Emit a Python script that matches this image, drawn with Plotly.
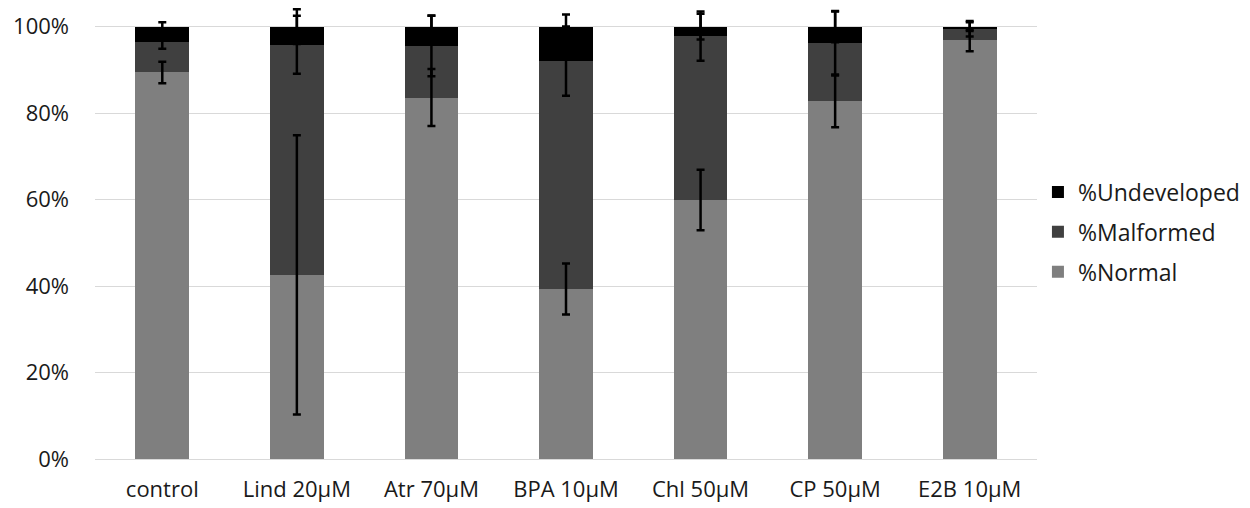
import plotly.graph_objects as go
import numpy as np

categories = ["control", "Lind 20\u00b5M", "Atr 70\u00b5M", "BPA 10\u00b5M", "Chl 50\u00b5M", "CP 50\u00b5M", "E2B 10\u00b5M"]
normal = [89.4, 42.6, 83.6, 39.3, 59.9, 82.7, 96.8]
malformed = [7.1, 53.2, 11.9, 52.7, 37.9, 13.5, 2.7]
undeveloped = [3.5, 4.2, 4.5, 8.0, 2.2, 3.8, 0.5]
normal_err = [2.5, 32.3, 6.6, 5.9, 7.0, 6.0, 2.5]
malformed_err = [1.6, 6.7, 7.0, 8.0, 5.7, 7.3, 1.8]
undeveloped_err = [1.0, 4.0, 2.6, 2.8, 3.0, 3.6, 1.0]
y_ticks = [0, 20, 40, 60, 80, 100]
y_labels = ["0%", "20%", "40%", "60%", "80%", "100%"]

FONT = "Open Sans"
fig = go.Figure()
series = [("%Normal", normal, normal_err, "#7f7f7f", 3),
          ("%Malformed", malformed, malformed_err, "#404040", 2),
          ("%Undeveloped", undeveloped, undeveloped_err, "#000000", 1)]
for name, vals, _, col, rank in series:
    fig.add_trace(go.Bar(x=categories, y=vals, name=name, marker_color=col,
                         marker_line_width=0, legendgroup=name, legendrank=rank))

cum = np.zeros(len(categories))
for name, vals, errs, col, rank in series:
    cum = cum + np.array(vals)
    fig.add_trace(go.Scatter(x=categories, y=cum, mode="markers",
                             marker=dict(opacity=0, size=1), showlegend=False,
                             hoverinfo="skip",
                             error_y=dict(type="data", array=errs, visible=True,
                                          color="black", thickness=2.5, width=4)))

fig.update_layout(
    barmode="stack", bargap=0.6,
    width=1250, height=508,
    margin=dict(l=95, r=210, t=5, b=49),
    paper_bgcolor="white", plot_bgcolor="white",
    font=dict(family=FONT, size=20, color="#1a1a1a"),
    legend=dict(x=1.001, y=0.5, xanchor="left", yanchor="middle",
                traceorder="grouped", font=dict(size=23), itemwidth=30,
                tracegroupgap=7),
)
fig.update_yaxes(range=[0, 105], tickvals=y_ticks, ticktext=y_labels,
                 showgrid=True, gridcolor="#d9d9d9", gridwidth=1,
                 zeroline=False, showline=False, ticklabelstandoff=25,
                 tickfont=dict(size=22), automargin=False)
fig.update_xaxes(showline=True, linecolor="#d9d9d9", linewidth=1,
                 ticks="", ticklabelstandoff=11, tickfont=dict(size=22),
                 automargin=False)

fig.write_html("out.html", config={"displayModeBar": False},
               post_script="document.body.style.margin='0px';")
